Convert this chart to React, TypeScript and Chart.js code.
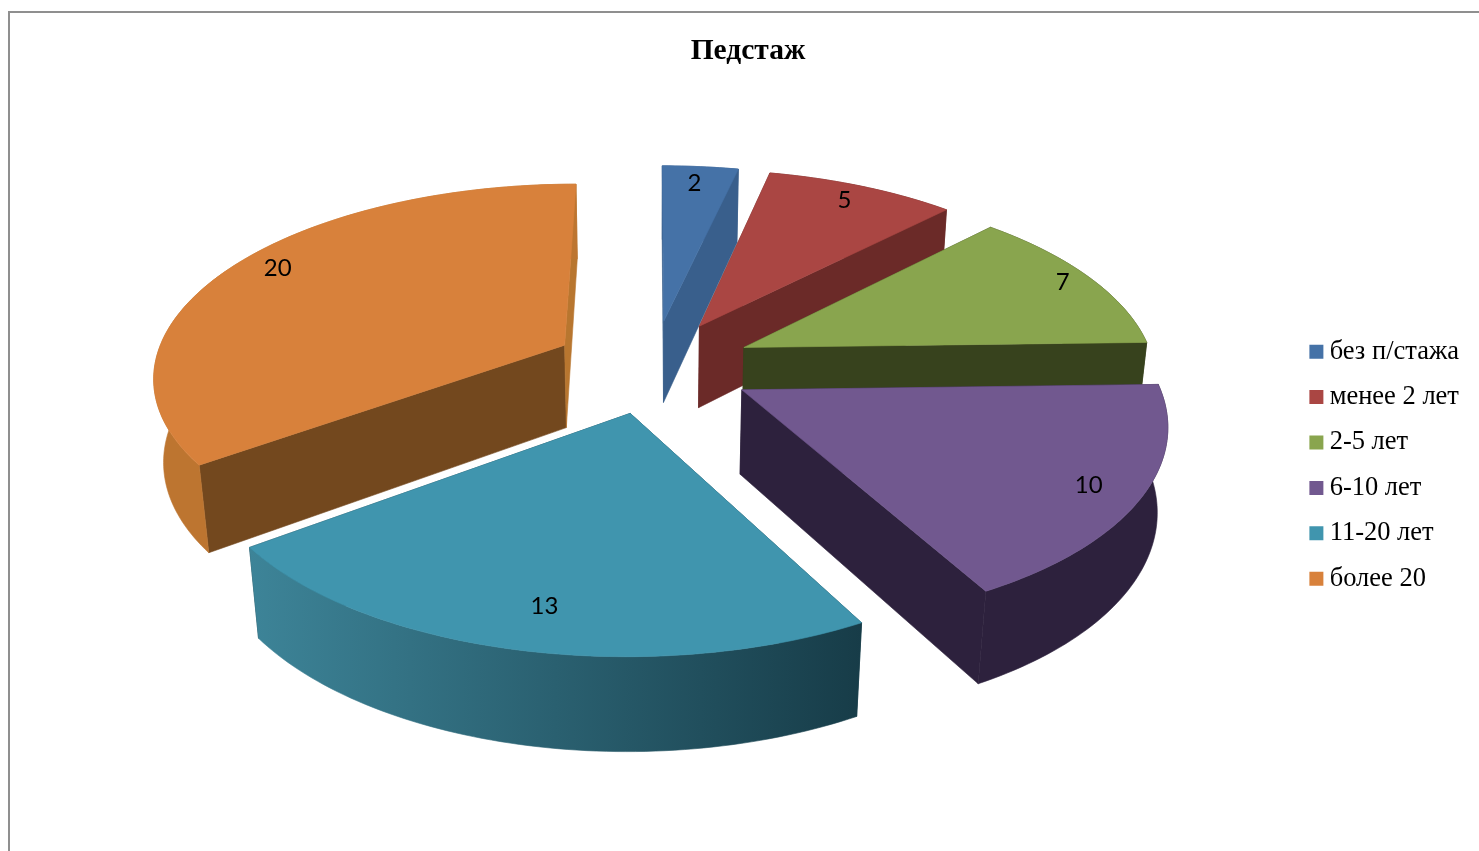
import React, { useEffect, useRef } from "react";
import { Chart, registerables } from "chart.js";

Chart.register(...registerables);

const categories = ["без п/стажа", "менее 2 лет", "2-5 лет", "6-10 лет", "11-20 лет", "более 20"];
const values = [2, 5, 7, 10, 13, 20];
const chartTitle = "Педстаж";

const topColors = ["#4572a7", "#aa4643", "#89a54e", "#71588f", "#4095ae", "#d8813b"];
const startWallColors = ["#395f8c", "#6b2a28", "#37421d", "#2d213d", "#1a414d", "#73481e"];
const endWallColors = ["#395f8c", "#6b2a28", "#37421d", "#2d213d", "#1a414d", "#b8762f"];
const outerFromColors = ["#395f8c", "#6b2a28", "#37421d", "#2d213d", "#3d8498", "#bd7530"];
const outerToColors = ["#395f8c", "#6b2a28", "#37421d", "#2d213d", "#173c48", "#bd7530"];
const labelRadius = [0.88, 0.89, 0.92, 0.88, 0.835, 0.89];
const labelSweep = [0.47, 0.49, 0.5, 0.51, 0.488, 0.525];

// Projection of the flat pie onto the tilted, extruded view
const VIEW = { cx: 653, cy: 366, fx: 411, fy: 191, k: 0.15, drop: 85, q: 0.02, explode: 0.245 };

function project(u: number, v: number, low: boolean) {
  const w = 1 - VIEW.k * v + (low ? VIEW.q : 0);
  return { x: VIEW.cx + (VIEW.fx * u) / w, y: VIEW.cy + (VIEW.fy * v + (low ? VIEW.drop : 0)) / w };
}

function poly(ctx: CanvasRenderingContext2D, pts: { x: number; y: number }[], fill: any) {
  ctx.beginPath();
  pts.forEach((p, i) => (i ? ctx.lineTo(p.x, p.y) : ctx.moveTo(p.x, p.y)));
  ctx.closePath();
  ctx.fillStyle = fill;
  ctx.strokeStyle = fill;
  ctx.lineWidth = 0.6;
  ctx.fill();
  ctx.stroke();
}

function sliceGeom(arc: any) {
  const { startAngle, endAngle } = arc.getProps(["startAngle", "endAngle"], true);
  const mid = (startAngle + endAngle) / 2;
  const ou = VIEW.explode * Math.cos(mid);
  const ov = VIEW.explode * Math.sin(mid);
  return { startAngle, endAngle, mid, ou, ov };
}

const pie3d = {
  id: "pie3d",
  beforeDatasetDraw(chart: any) {
    const ctx: CanvasRenderingContext2D = chart.ctx;
    const arcs: any[] = chart.getDatasetMeta(0).data;
    const order = arcs
      .map((a, i) => ({ i, v: Math.sin(sliceGeom(a).mid) }))
      .sort((a, b) => a.v - b.v)
      .map((o) => o.i);
    ctx.save();
    for (const i of order) {
      const g = sliceGeom(arcs[i]);
      const steps = Math.max(8, Math.ceil((g.endAngle - g.startAngle) / 0.02));
      const top: { x: number; y: number }[] = [];
      const low: { x: number; y: number }[] = [];
      for (let s = 0; s <= steps; s++) {
        const a = g.startAngle + ((g.endAngle - g.startAngle) * s) / steps;
        const u = g.ou + Math.cos(a);
        const v = g.ov + Math.sin(a);
        top.push(project(u, v, false));
        low.push(project(u, v, true));
      }
      const apexT = project(g.ou, g.ov, false);
      const apexL = project(g.ou, g.ov, true);
      poly(ctx, [apexT, top[0], low[0], apexL], startWallColors[i]);
      poly(ctx, [apexT, top[steps], low[steps], apexL], endWallColors[i]);
      const xs = top.map((p) => p.x);
      const grad = ctx.createLinearGradient(Math.min(...xs), 0, Math.max(...xs), 0);
      grad.addColorStop(0, outerFromColors[i]);
      grad.addColorStop(1, outerToColors[i]);
      poly(ctx, [...top, ...low.slice().reverse()], grad);
      poly(ctx, [apexT, ...top], topColors[i]);
    }
    ctx.fillStyle = "#000";
    ctx.font = '24px Lato, "Open Sans", sans-serif';
    ctx.textAlign = "center";
    ctx.textBaseline = "middle";
    arcs.forEach((arc, i) => {
      const g = sliceGeom(arc);
      const a = g.startAngle + (g.endAngle - g.startAngle) * labelSweep[i];
      const p = project(g.ou + labelRadius[i] * Math.cos(a), g.ov + labelRadius[i] * Math.sin(a), false);
      ctx.fillText(String(values[i]), p.x, p.y);
    });
    ctx.restore();
    return false;
  },
};

export default function App() {
  const ref = useRef<HTMLCanvasElement | null>(null);
  useEffect(() => {
    document.body.style.margin = "0";
    document.body.style.background = "#fff";
    const chart = new Chart(ref.current as HTMLCanvasElement, {
      type: "pie",
      data: {
        labels: categories,
        datasets: [{ data: values, backgroundColor: topColors, borderWidth: 0 }],
      },
      options: {
        responsive: false,
        animation: false,
        layout: { padding: { left: 27, right: 10, top: 0, bottom: 0 } },
        plugins: {
          tooltip: { enabled: false },
          title: {
            display: true,
            text: chartTitle,
            color: "#000",
            font: { family: '"Liberation Serif", serif', size: 29.5, weight: "bold" },
            padding: { top: 34, bottom: 10 },
          },
          legend: {
            position: "right",
            fullSize: false,
            labels: {
              color: "#000",
              font: { family: '"Liberation Serif", serif', size: 26.5 },
              usePointStyle: true,
              pointStyle: "rect",
              boxWidth: 0.01,
              boxHeight: 14,
              padding: 18.9,
            },
          },
        },
      },
      plugins: [pie3d],
    } as any);
    return () => chart.destroy();
  }, []);
  return (
    <div style={{ position: "fixed", left: 0, top: 0, width: 1479, height: 851, overflow: "hidden", background: "#fff" }}>
      <div
        style={{
          position: "absolute",
          left: 8,
          top: 11,
          width: 1471,
          height: 840,
          borderTop: "2px solid #8f8f8f",
          borderLeft: "2px solid #8f8f8f",
        }}
      />
      <canvas ref={ref} width={1479} height={851} style={{ position: "absolute", left: 0, top: 0, width: 1479, height: 851 }} />
    </div>
  );
}
